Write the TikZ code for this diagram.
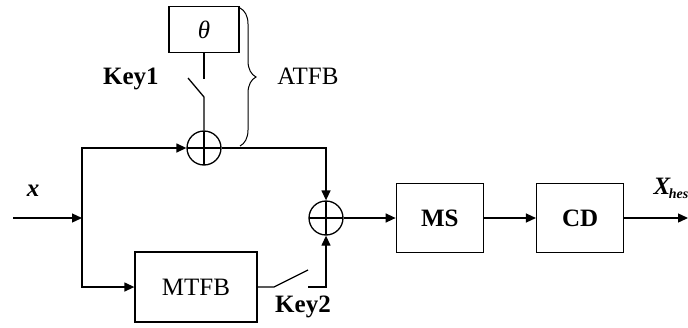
\documentclass[tikz,border=0pt]{standalone}
\usepackage{fontspec}
\setmainfont{Liberation Serif}
\usetikzlibrary{positioning,arrows.meta,decorations.pathreplacing}

\begin{document}
\begin{tikzpicture}[x=0.5pt,y=-0.5pt,>={Triangle[length=5pt,width=4.5pt]},line width=0.65pt,
  font=\fontsize{12.5}{15}\selectfont,
  block/.style={draw,rectangle,minimum width=43.5pt,minimum height=34.5pt,inner sep=0pt},
  sum/.style={draw,circle,minimum size=17pt,inner sep=0pt,
    path picture={\draw (path picture bounding box.north) -- (path picture bounding box.south)
      (path picture bounding box.west) -- (path picture bounding box.east);}}]
\useasboundingbox (0,0) rectangle (688,327);
\node[sum] (sum1) at (204,148) {};
\node[sum] (sum2) at (326,218) {};
\node[block,minimum width=35pt,minimum height=23pt,above=38.5pt of sum1] (theta) {\textit{θ}};
\node[block,minimum width=61pt,minimum height=35pt] (mtfb) at (196,287) {MTFB};
\node[block,right=26pt of sum2] (ms) {\textbf{MS}};
\node[block,right=26pt of ms] (cd) {\textbf{CD}};
% labels
\node (xin) at (33,191) {\textbf{\textit{x}}};
\node[anchor=east] (key1) at (166,79) {\textbf{Key1}};
\node (key2) at (303,307) {\textbf{Key2}};
\node[anchor=west] (atfb) at (270,76) {ATFB};
\node[anchor=west,inner sep=0pt] (xout) at (653,188)
  {\textbf{\textit{X}}\kern-1pt\raisebox{-2pt}{\fontsize{7}{8}\selectfont\textbf{\textit{hes}}}};
% input and branches
\coordinate (in) at (13,218);
\coordinate (split) at (82,218);
\coordinate (out) at (688,218);
\draw[->] (in) -- (split);
\draw[->] (split) |- (sum1);
\draw[->] (split) |- (mtfb);
% switch Key1
\coordinate (k1a) at (204,79);
\coordinate (k1b) at (188,78);
\coordinate (k1c) at (204,97);
\draw (theta) -- (k1a);
\draw (k1b) -- (k1c) -- (sum1);
\draw[->] (sum1) -| (sum2);
% switch Key2
\coordinate (k2a) at (274,287);
\coordinate (k2b) at (308,270);
\coordinate (k2c) at (308,287);
\draw (mtfb) -- (k2a) -- (k2b);
\draw[->] (k2c) -| (sum2);
\draw[->] (sum2) -- (ms);
\draw[->] (ms) -- (cd);
\draw[->] (cd) -- (out);
% brace
\coordinate (bt) at (240,8);
\coordinate (bb) at (240,146);
\draw[line width=0.5pt,decorate,decoration={brace,amplitude=8pt}] (bt) -- (bb);
\end{tikzpicture}
\end{document}
